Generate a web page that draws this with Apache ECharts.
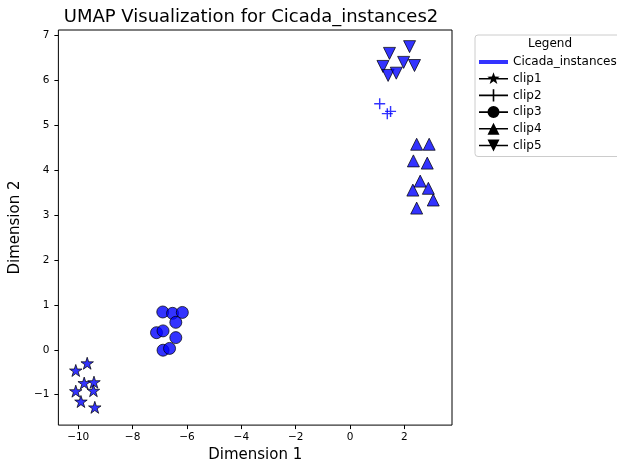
<!DOCTYPE html>
<html>
<head>
<meta charset="utf-8">
<script src="https://cdn.jsdelivr.net/npm/echarts@6/dist/echarts.min.js"></script>
<style>
html,body{margin:0;padding:0;background:#fff;}
#chart{width:617px;height:468px;}
</style>
</head>
<body>
<div id="chart"></div>
<script>
// ---- data ----
const chartTitle = 'UMAP Visualization for Cicada_instances2';
const xName = 'Dimension 1';
const yName = 'Dimension 2';
const legendTitle = 'Legend';
const groupName = 'Cicada_instances2';
const seriesNames = ['clip1', 'clip2', 'clip3', 'clip4', 'clip5'];
const xTicks = [-10, -8, -6, -4, -2, 0, 2];
const yTicks = [-1, 0, 1, 2, 3, 4, 5, 6, 7];

const clip1 = [[-10.09,-0.46],[-9.67,-0.30],[-9.78,-0.74],[-9.42,-0.72],[-10.09,-0.92],[-9.44,-0.91],[-9.90,-1.15],[-9.39,-1.28]];
const clip2 = [[1.09,5.47],[1.37,5.25],[1.49,5.30]];
const clip3 = [[-6.89,0.84],[-6.53,0.81],[-6.17,0.83],[-6.41,0.61],[-7.12,0.38],[-6.88,0.42],[-6.41,0.27],[-6.88,-0.01],[-6.64,0.03]];
const clip4 = [[2.45,4.57],[2.91,4.57],[2.33,4.20],[2.84,4.15],[2.58,3.75],[2.31,3.55],[2.88,3.59],[3.06,3.33],[2.45,3.15]];
const clip5 = [[1.45,6.59],[2.19,6.74],[1.21,6.30],[1.97,6.39],[2.37,6.32],[1.40,6.10],[1.70,6.15]];
const seriesData = [clip1, clip2, clip3, clip4, clip5];

// ---- styling ----
const FONT = 'DejaVu Sans';
const face = 'rgba(0,0,255,0.8)';
const edge = 'rgba(0,0,0,0.8)';
const starPath = 'path://M50 0 L61.2 34.5 L97.6 34.5 L68.2 55.9 L79.4 90.5 L50 69.1 L20.6 90.5 L31.8 55.9 L2.4 34.5 L38.8 34.5 Z';
const plusPath = 'path://M43.5 0 H56.5 V43.5 H100 V56.5 H56.5 V100 H43.5 V56.5 H0 V43.5 H43.5 Z';
const symbols = [
  {symbol: starPath, size: [12.5, 12], rotate: 0, border: true},
  {symbol: plusPath, size: 11, rotate: 0, border: false},
  {symbol: 'circle', size: 12, rotate: 0, border: true},
  {symbol: 'triangle', size: 12, rotate: 0, border: true},
  {symbol: 'triangle', size: 12, rotate: 180, border: true}
];

// legend icons (29 x 14 box, corner specks fix the bounding box)
const specks = ' M0 0 L0.01 0 L0 0.01 Z M29 14 L28.99 14 L29 13.99 Z';
const hLine = 'M0 6.2 L29 6.2 L29 7.8 L0 7.8 Z';
const legendIcons = [
  'path://' + hLine + ' M14.5 0.5 L16.03 4.9 L20.68 4.99 L16.97 7.8 L18.32 12.26 L14.5 9.6 L10.68 12.26 L12.03 7.8 L8.32 4.99 L12.97 4.9 Z' + specks,
  'path://' + hLine + ' M13.7 0.8 L15.3 0.8 L15.3 13.2 L13.7 13.2 Z' + specks,
  'path://' + hLine + ' M8.5 7 A6 6 0 1 1 20.5 7 A6 6 0 1 1 8.5 7 Z' + specks,
  'path://' + hLine + ' M14.5 1 L20.5 13 L8.5 13 Z' + specks,
  'path://' + hLine + ' M8.5 1 L20.5 1 L14.5 13 Z' + specks
];
const groupIcon = 'path://M0 5 L29 5 L29 9 L0 9 Z' + specks;

const fmt = v => String(v).replace('-', '\u2212');

const series = [{
  name: groupName, type: 'scatter', data: [], itemStyle: {color: '#0000ff'}
}];
seriesNames.forEach((n, i) => {
  const s = symbols[i];
  series.push({
    name: n,
    type: 'scatter',
    data: seriesData[i],
    symbol: s.symbol,
    symbolSize: s.size,
    symbolRotate: s.rotate,
    itemStyle: s.border ? {color: face, borderColor: edge, borderWidth: 0.9, opacity: 1}
                        : {color: face, borderWidth: 0, opacity: 1},
    emphasis: {disabled: true}
  });
});

const legendData = [{name: groupName, icon: groupIcon, itemStyle: {color: '#0000ff', borderWidth: 0}}]
  .concat(seriesNames.map((n, i) => ({name: n, icon: legendIcons[i], itemStyle: {color: '#000', borderWidth: 0, opacity: 1}})));

const chart = echarts.init(document.getElementById('chart'), null, {renderer: 'canvas'});
chart.setOption({
  animation: false,
  backgroundColor: '#fff',
  textStyle: {fontFamily: FONT},
  title: {
    text: chartTitle, left: 251, top: 8, padding: 0, textAlign: 'center',
    textStyle: {fontFamily: FONT, fontSize: 18, fontWeight: 'normal', color: '#000'}
  },
  grid: {left: 53, right: 165, top: 30, bottom: 40, show: true, borderColor: '#000', borderWidth: 1, backgroundColor: 'transparent'},
  xAxis: {
    type: 'value', min: -10.73, max: 3.75,
    name: xName, nameLocation: 'middle', nameGap: 22,
    nameTextStyle: {fontFamily: FONT, fontSize: 15, color: '#000'},
    axisLine: {show: false, onZero: false},
    axisTick: {show: true, length: 4, customValues: xTicks, lineStyle: {color: '#000', width: 1}},
    axisLabel: {customValues: xTicks, formatter: fmt, margin: 7, fontFamily: FONT, fontSize: 10.5, color: '#000'},
    splitLine: {show: false}
  },
  yAxis: {
    type: 'value', min: -1.675, max: 7.11,
    name: yName, nameLocation: 'middle', nameGap: 29, nameRotate: 90,
    nameTextStyle: {fontFamily: FONT, fontSize: 15, color: '#000'},
    axisLine: {show: false, onZero: false},
    axisTick: {show: true, length: 4, customValues: yTicks, lineStyle: {color: '#000', width: 1}},
    axisLabel: {customValues: yTicks, formatter: fmt, margin: 9, fontFamily: FONT, fontSize: 10.5, color: '#000'},
    splitLine: {show: false}
  },
  legend: {
    orient: 'vertical', left: 475, top: 35,
    padding: [20, 10, 4, 4],
    itemWidth: 29, itemHeight: 14, itemGap: 2.7,
    selectedMode: false,
    backgroundColor: 'rgba(255,255,255,0.8)', borderColor: '#cccccc', borderWidth: 1, borderRadius: 3,
    textStyle: {fontFamily: FONT, fontSize: 12, color: '#000', lineHeight: 14},
    data: legendData
  },
  graphic: [{
    type: 'text', left: 528, top: 38, z: 100,
    style: {text: legendTitle, font: '12px "DejaVu Sans"', fill: '#000'}
  }],
  series: series
});
</script>
</body>
</html>
